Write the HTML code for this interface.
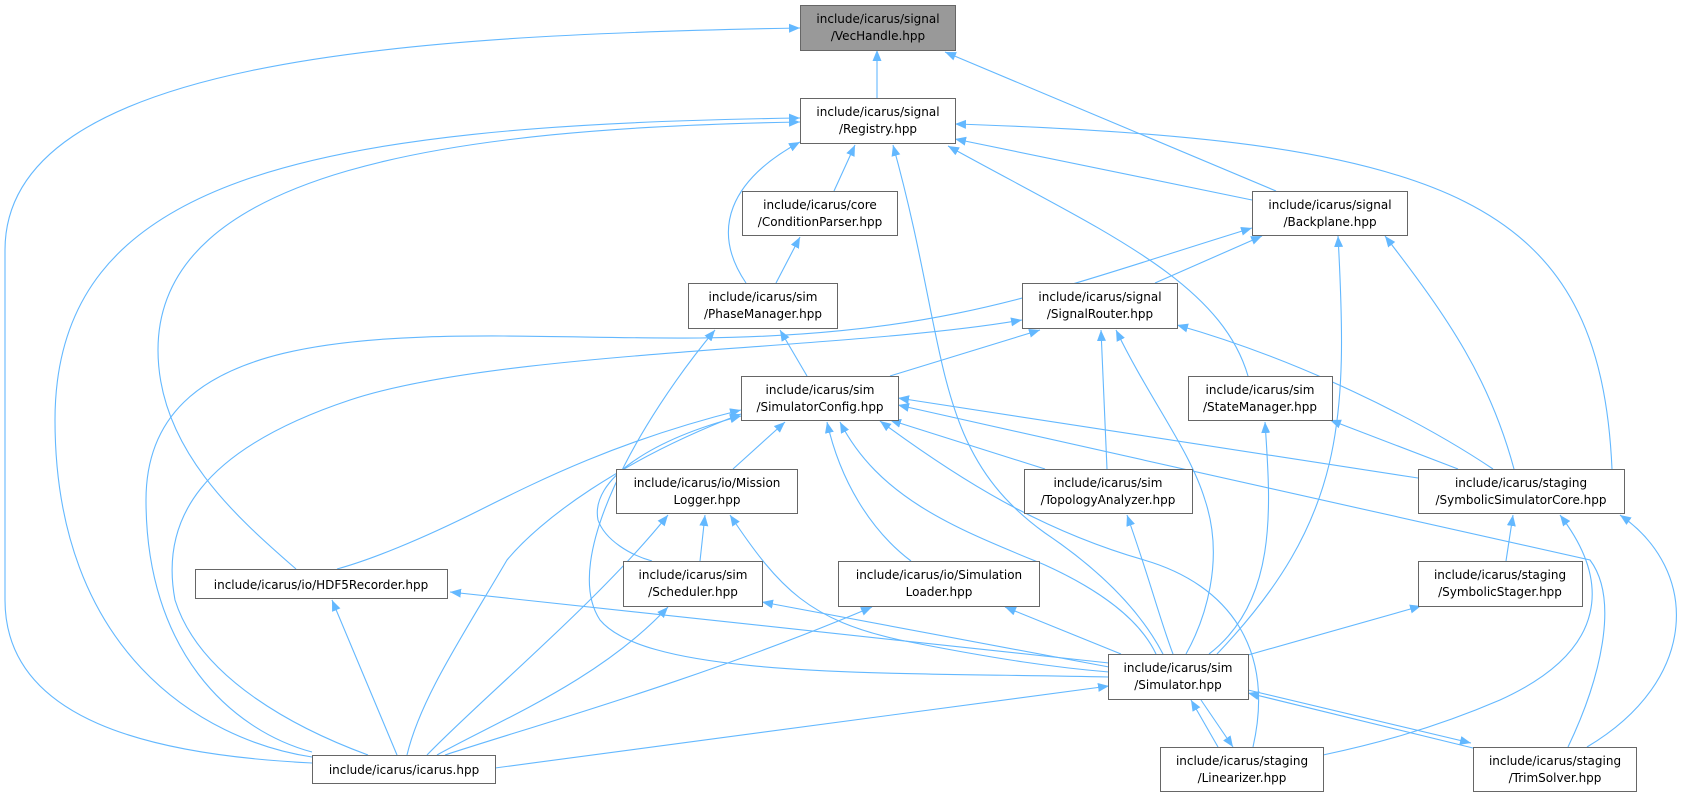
<!DOCTYPE html>
<html><head><meta charset="utf-8"><style>
html,body{margin:0;padding:0;background:#fff;}
svg{display:block;}
text{font-family:"DejaVu Sans","Liberation Sans",sans-serif;font-size:12px;fill:#000;}
.e{fill:none;stroke:#63b8ff;stroke-width:1.1;marker-start:url(#a);}
.n{fill:#fff;stroke:#666;stroke-width:1;}
</style></head><body>
<svg width="1706" height="797" viewBox="0 0 1706 797" xmlns="http://www.w3.org/2000/svg">
<defs><marker id="a" markerUnits="userSpaceOnUse" markerWidth="12" markerHeight="10" refX="11" refY="4.5" orient="auto-start-reverse"><path d="M0,0 L11,4.5 L0,9 z" fill="#63b8ff"/></marker></defs>
<g>
<path class="e" d="M877,50 L877,98"/>
<path class="e" d="M945,52 L1276,191"/>
<path class="e" d="M800,28 C400,35 5,60 5,250 L5,600 C5,720 150,755 312,763"/>
<path class="e" d="M855,145 L834,191"/>
<path class="e" d="M800,142 C730,180 710,230 746,283"/>
<path class="e" d="M955,139 L1252,200"/>
<path class="e" d="M955,124 C1450,140 1600,200 1612,469"/>
<path class="e" d="M948,146 C1100,230 1220,280 1248,376"/>
<path class="e" d="M893,145 C950,350 930,450 1045,533 C1100,570 1140,610 1163,654"/>
<path class="e" d="M800,122 C450,128 158,170 158,350 C158,450 240,520 296,569"/>
<path class="e" d="M800,118 C300,125 55,180 55,420 C55,650 200,740 312,757"/>
<path class="e" d="M800,237 L776,283"/>
<path class="e" d="M1262,236 L1155,283"/>
<path class="e" d="M1252,228 C1050,290 950,335 700,338 C450,340 146,300 146,500 C146,650 230,730 312,752"/>
<path class="e" d="M1338,236 C1348,420 1345,520 1217,654"/>
<path class="e" d="M1385,236 C1450,320 1490,380 1514,469"/>
<path class="e" d="M780,330 L807,376"/>
<path class="e" d="M715,330 C640,420 560,560 600,620 C650,680 900,672 1109,677"/>
<path class="e" d="M1040,330 L890,376"/>
<path class="e" d="M1022,320 C850,350 500,350 350,400 C200,450 160,520 175,600 C200,680 300,730 368,755"/>
<path class="e" d="M1101,330 L1107,469"/>
<path class="e" d="M1116,330 C1150,400 1190,450 1205,500 C1225,560 1205,620 1186,654"/>
<path class="e" d="M1177,325 C1300,360 1420,420 1493,469"/>
<path class="e" d="M785,422 L733,469"/>
<path class="e" d="M741,410 C620,440 540,480 480,510 C420,540 370,560 337,569"/>
<path class="e" d="M741,414 C620,460 540,520 507,560 C460,640 420,700 407,755"/>
<path class="e" d="M741,416 C650,440 590,480 598,520 C605,540 630,555 652,561"/>
<path class="e" d="M827,422 C840,480 870,530 911,561"/>
<path class="e" d="M840,422 C880,500 960,530 1045,565 C1100,590 1140,620 1156,654"/>
<path class="e" d="M880,421 C960,480 1040,530 1144,560 C1230,585 1275,650 1253,747"/>
<path class="e" d="M898,405 L1590,560 C1620,600 1600,680 1568,747"/>
<path class="e" d="M898,398 L1418,478"/>
<path class="e" d="M890,420 L1045,469"/>
<path class="e" d="M1265,422 C1270,500 1280,600 1209,654"/>
<path class="e" d="M1330,420 L1458,469"/>
<path class="e" d="M705,515 L700,561"/>
<path class="e" d="M668,515 C600,600 480,700 427,755"/>
<path class="e" d="M730,515 C780,590 810,620 900,640 C1000,660 1060,668 1109,672"/>
<path class="e" d="M1127,515 C1150,580 1160,620 1173,654"/>
<path class="e" d="M1513,515 L1506,561"/>
<path class="e" d="M1560,515 C1610,580 1610,650 1500,700 C1430,730 1370,745 1323,755"/>
<path class="e" d="M1620,515 C1700,570 1700,680 1587,747"/>
<path class="e" d="M332,600 L397,755"/>
<path class="e" d="M450,592 L1109,663"/>
<path class="e" d="M668,607 C600,680 500,720 437,755"/>
<path class="e" d="M762,602 L1109,667"/>
<path class="e" d="M872,607 C700,680 520,730 445,755"/>
<path class="e" d="M1005,607 L1121,654"/>
<path class="e" d="M1421,606 L1248,655"/>
<path class="e" d="M1109,686 L495,768"/>
<path class="e" d="M1191,700 L1218,747"/>
<path class="e" d="M1233,747 L1201,700"/>
<path class="e" d="M1248,693 L1473,748"/>
<path class="e" d="M1471,743 L1248,690"/>
</g>
<g>
<rect x="800.5" y="5.5" width="155" height="45" fill="#999" stroke="#666"/>
<text x="878" y="23" text-anchor="middle">include/icarus/signal</text><text x="878" y="40" text-anchor="middle">/VecHandle.hpp</text>
<rect class="n" x="800.5" y="98.5" width="155" height="45"/>
<text x="878" y="116" text-anchor="middle">include/icarus/signal</text><text x="878" y="133" text-anchor="middle">/Registry.hpp</text>
<rect class="n" x="742.5" y="191.5" width="155" height="44"/>
<text x="820" y="209" text-anchor="middle">include/icarus/core</text><text x="820" y="226" text-anchor="middle">/ConditionParser.hpp</text>
<rect class="n" x="1252.5" y="191.5" width="155" height="44"/>
<text x="1330" y="209" text-anchor="middle">include/icarus/signal</text><text x="1330" y="226" text-anchor="middle">/Backplane.hpp</text>
<rect class="n" x="688.5" y="283.5" width="149" height="45"/>
<text x="763" y="301" text-anchor="middle">include/icarus/sim</text><text x="763" y="318" text-anchor="middle">/PhaseManager.hpp</text>
<rect class="n" x="1022.5" y="283.5" width="155" height="45"/>
<text x="1100" y="301" text-anchor="middle">include/icarus/signal</text><text x="1100" y="318" text-anchor="middle">/SignalRouter.hpp</text>
<rect class="n" x="741.5" y="376.5" width="157" height="44"/>
<text x="820" y="394" text-anchor="middle">include/icarus/sim</text><text x="820" y="411" text-anchor="middle">/SimulatorConfig.hpp</text>
<rect class="n" x="1188.5" y="376.5" width="144" height="44"/>
<text x="1260" y="394" text-anchor="middle">include/icarus/sim</text><text x="1260" y="411" text-anchor="middle">/StateManager.hpp</text>
<rect class="n" x="616.5" y="469.5" width="181" height="44"/>
<text x="707" y="487" text-anchor="middle">include/icarus/io/Mission</text><text x="707" y="504" text-anchor="middle">Logger.hpp</text>
<rect class="n" x="1024.5" y="469.5" width="168" height="44"/>
<text x="1108" y="487" text-anchor="middle">include/icarus/sim</text><text x="1108" y="504" text-anchor="middle">/TopologyAnalyzer.hpp</text>
<rect class="n" x="1418.5" y="469.5" width="206" height="44"/>
<text x="1521" y="487" text-anchor="middle">include/icarus/staging</text><text x="1521" y="504" text-anchor="middle">/SymbolicSimulatorCore.hpp</text>
<rect class="n" x="195.5" y="569.5" width="252" height="29"/>
<text x="321" y="589" text-anchor="middle">include/icarus/io/HDF5Recorder.hpp</text>
<rect class="n" x="623.5" y="561.5" width="139" height="45"/>
<text x="693" y="579" text-anchor="middle">include/icarus/sim</text><text x="693" y="596" text-anchor="middle">/Scheduler.hpp</text>
<rect class="n" x="838.5" y="561.5" width="201" height="45"/>
<text x="939" y="579" text-anchor="middle">include/icarus/io/Simulation</text><text x="939" y="596" text-anchor="middle">Loader.hpp</text>
<rect class="n" x="1418.5" y="561.5" width="164" height="45"/>
<text x="1500" y="579" text-anchor="middle">include/icarus/staging</text><text x="1500" y="596" text-anchor="middle">/SymbolicStager.hpp</text>
<rect class="n" x="1108.5" y="654.5" width="140" height="45"/>
<text x="1178" y="672" text-anchor="middle">include/icarus/sim</text><text x="1178" y="689" text-anchor="middle">/Simulator.hpp</text>
<rect class="n" x="312.5" y="755.5" width="183" height="28"/>
<text x="404" y="774" text-anchor="middle">include/icarus/icarus.hpp</text>
<rect class="n" x="1160.5" y="747.5" width="163" height="44"/>
<text x="1242" y="765" text-anchor="middle">include/icarus/staging</text><text x="1242" y="782" text-anchor="middle">/Linearizer.hpp</text>
<rect class="n" x="1473.5" y="747.5" width="163" height="44"/>
<text x="1555" y="765" text-anchor="middle">include/icarus/staging</text><text x="1555" y="782" text-anchor="middle">/TrimSolver.hpp</text>
</g>
</svg>
</body></html>
